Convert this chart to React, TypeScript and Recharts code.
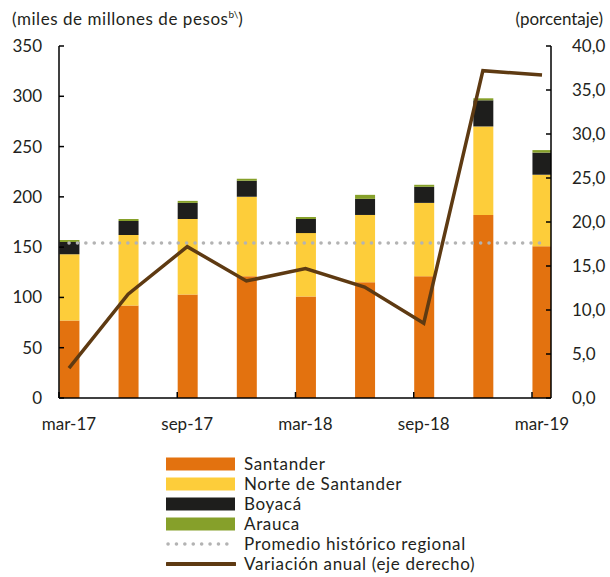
import * as React from 'react';
import { ComposedChart, Bar, Line, XAxis, YAxis } from 'recharts';

const quarters = ['mar-17', 'jun-17', 'sep-17', 'dic-17', 'mar-18', 'jun-18', 'sep-18', 'dic-18', 'mar-19'];
const santander = [77, 92, 103, 121, 101, 115, 121, 182, 151];
const norteSantander = [66, 70, 75, 79, 63, 67, 73, 88, 71];
const boyaca = [12, 14, 16, 16, 14, 16, 16, 26, 22];
const arauca = [2, 2, 2, 2, 2, 4, 2, 2, 2.5];
const promedio = [154, 154, 154, 154, 154, 154, 154, 154, 154];
const variacion = [3.4, 11.8, 17.2, 13.3, 14.7, 12.6, 8.5, 37.2, 36.7];

const leftTicks = [0, 50, 100, 150, 200, 250, 300, 350];
const rightTicks = [0, 5, 10, 15, 20, 25, 30, 35, 40];
const xTicks = [0, 2, 4, 6, 8];

const data = quarters.map((q, i) => ({
	i,
	q,
	santander: santander[i],
	norte: norteSantander[i],
	boyaca: boyaca[i],
	arauca: arauca[i],
	promedio: promedio[i],
	variacion: variacion[i]
}));

const FONT = 'Lato, "Open Sans", sans-serif';
const TEXT = '#231f20';

const Color = {
	santander: '#e3720f',
	norte: '#fdcd3a',
	boyaca: '#1e1e1c',
	arauca: '#86a02a',
	promedio: '#b3b3b3',
	variacion: '#5e3a12'
};

const XTick = (props: any) => {
	const { x, y, payload } = props;
	return (
		<g>
			<line x1={x - 10} x2={x - 10} y1={y} y2={y - 6} stroke="#000" strokeWidth={1.5} />
			<text x={x} y={y + 32} textAnchor="middle" fontSize={17} fontFamily={FONT} fill={TEXT}>
				{quarters[payload.value]}
			</text>
		</g>
	);
};

const LeftTick = (props: any) => {
	const { x, y, payload } = props;
	return (
		<g>
			<line x1={x} x2={x + 5} y1={y} y2={y} stroke="#000" strokeWidth={1.5} />
			<text x={x - 17} y={y + 6} textAnchor="end" fontSize={17} fontFamily={FONT} fill={TEXT}>
				{payload.value}
			</text>
		</g>
	);
};

const RightTick = (props: any) => {
	const { x, y, payload } = props;
	return (
		<g>
			<line x1={x - 5} x2={x} y1={y} y2={y} stroke="#000" strokeWidth={1.5} />
			<text x={x + 21} y={y + 6} textAnchor="start" fontSize={17} fontFamily={FONT} fill={TEXT}>
				{payload.value.toFixed(1).replace('.', ',')}
			</text>
		</g>
	);
};

const legendItems = [
	{ label: 'Santander', color: Color.santander, kind: 'box' },
	{ label: 'Norte de Santander', color: Color.norte, kind: 'box' },
	{ label: 'Boyacá', color: Color.boyaca, kind: 'box' },
	{ label: 'Arauca', color: Color.arauca, kind: 'box' },
	{ label: 'Promedio histórico regional', color: Color.promedio, kind: 'dots' },
	{ label: 'Variación anual (eje derecho)', color: Color.variacion, kind: 'line' }
];

const ChartLegend = () => (
	<div style={{ position: 'absolute', left: 166, top: 454 }}>
		{legendItems.map(item => (
			<div key={item.label} style={{ display: 'flex', alignItems: 'center', height: 20 }}>
				<svg width={70} height={14} style={{ marginRight: 8 }}>
					{item.kind === 'box' && <rect x={0} y={0.5} width={69} height={13} fill={item.color} />}
					{item.kind === 'dots' && (
						<line x1={2} x2={69} y1={7} y2={7} stroke={item.color} strokeWidth={3.5}
							strokeLinecap="round" strokeDasharray="0.1 8.3" />
					)}
					{item.kind === 'line' && (
						<line x1={1} x2={69} y1={7} y2={7} stroke={item.color} strokeWidth={4} strokeLinecap="round" />
					)}
				</svg>
				<span style={{ fontFamily: FONT, fontSize: 17, lineHeight: '20px', letterSpacing: 0.65, color: TEXT, whiteSpace: 'nowrap' }}>
					{item.label}
				</span>
			</div>
		))}
	</div>
);

export default function App() {
	return (
		<div style={{ position: 'absolute', left: 0, top: 0, width: 610, height: 577, background: '#fff' }}>
			<div style={{ position: 'absolute', left: 12, top: 8, fontFamily: FONT, fontSize: 17, letterSpacing: 0.55, color: TEXT, whiteSpace: 'nowrap' }}>
				(miles de millones de pesos<sup style={{ fontSize: 10, letterSpacing: 0 }}>b\</sup>)
			</div>
			<div style={{ position: 'absolute', right: 7, top: 8, fontFamily: FONT, fontSize: 17, color: TEXT, whiteSpace: 'nowrap' }}>
				(porcentaje)
			</div>
			<ComposedChart
				width={610}
				height={577}
				data={data}
				margin={{ top: 46, right: 0, left: 0, bottom: 139 }}
			>
				<XAxis
					dataKey="i"
					type="number"
					domain={[-0.169, 8.152]}
					allowDataOverflow
					ticks={xTicks}
					height={40}
					tickSize={0}
					tickMargin={0}
					tickLine={false}
					axisLine={{ stroke: '#000', strokeWidth: 1.5 }}
					tick={<XTick />}
					interval={0}
				/>
				<YAxis
					yAxisId="left"
					orientation="left"
					width={59}
					domain={[0, 350]}
					ticks={leftTicks}
					tickSize={0}
					tickMargin={0}
					tickLine={false}
					axisLine={{ stroke: '#000', strokeWidth: 1.5 }}
					tick={<LeftTick />}
					interval={0}
				/>
				<YAxis
					yAxisId="right"
					orientation="right"
					width={59}
					domain={[0, 40]}
					ticks={rightTicks}
					tickSize={0}
					tickMargin={0}
					tickLine={false}
					axisLine={{ stroke: '#000', strokeWidth: 1.5 }}
					tick={<RightTick />}
					interval={0}
				/>
				<Bar yAxisId="left" dataKey="santander" stackId="a" fill={Color.santander} barSize={20} isAnimationActive={false} />
				<Bar yAxisId="left" dataKey="norte" stackId="a" fill={Color.norte} barSize={20} isAnimationActive={false} />
				<Bar yAxisId="left" dataKey="boyaca" stackId="a" fill={Color.boyaca} barSize={20} isAnimationActive={false} />
				<Bar yAxisId="left" dataKey="arauca" stackId="a" fill={Color.arauca} barSize={20} isAnimationActive={false} />
				<Line
					yAxisId="left"
					dataKey="promedio"
					stroke={Color.promedio}
					strokeWidth={3.5}
					strokeLinecap="round"
					strokeDasharray="0.1 8.3"
					dot={false}
					activeDot={false}
					isAnimationActive={false}
				/>
				<Line
					yAxisId="right"
					dataKey="variacion"
					type="linear"
					stroke={Color.variacion}
					strokeWidth={3.5}
					dot={false}
					activeDot={false}
					isAnimationActive={false}
				/>
			</ComposedChart>
			<ChartLegend />
		</div>
	);
}
